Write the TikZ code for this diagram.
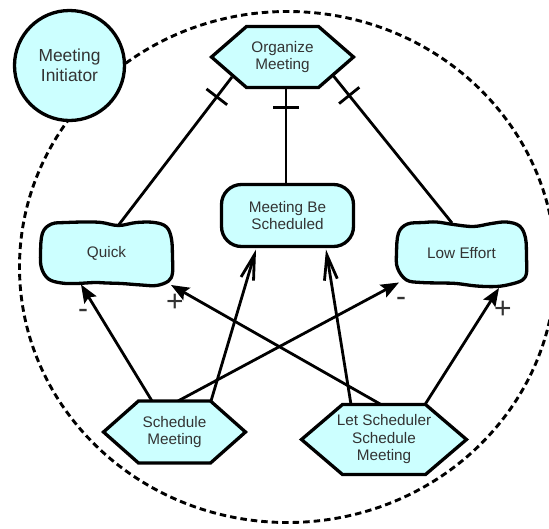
\documentclass[tikz,border=0pt]{standalone}
\usepackage{fontspec}
\setmainfont{Liberation Sans}
\usetikzlibrary{arrows.meta,calc,decorations.markings,backgrounds}

\definecolor{istarfill}{HTML}{CCFFFF}
\definecolor{labelgray}{HTML}{333333}

\tikzset{
  elem/.style={draw=none, inner sep=0pt, outer sep=0pt, align=center,
    text=labelgray, font=\fontsize{15.3}{17.5}\selectfont},
  outline/.style={draw=black, line width=3.3pt, fill=istarfill, line join=miter},
  actorbox/.style={circle, outline, minimum size=110pt, inner sep=0pt, outer sep=0pt,
    align=center, text=labelgray, font=\fontsize{17.4}{19.5}\selectfont},
  goalbox/.style={elem, outline, rounded corners=20pt, minimum width=132pt, minimum height=62pt},
  boundary/.style={draw=black, line width=2.9pt, dash pattern=on 6.5pt off 4pt},
  link/.style={draw=black, line width=2.8pt},
  decomp/.style={link, postaction={decorate},
    decoration={markings, mark=at position #1 with {\draw[line width=2.8pt] (0,-13pt) -- (0,13pt);}}},
  meansend/.style={link, -{Straight Barb[length=25pt,width=13pt,line width=2.8pt]}},
  contrib/.style={link, -{Stealth[length=18pt,width=14pt,inset=3pt]}},
  signlabel/.style={inner sep=0pt, text=labelgray, font=\fontsize{30}{30}\selectfont},
}

% hexagonal task outline around a rectangular node
\newcommand{\hexoutline}[2]{%
  \draw[outline] (#1.west) -- ([xshift=#2]#1.north west) -- ([xshift=-#2]#1.north east)
    -- (#1.east) -- ([xshift=-#2]#1.south east) -- ([xshift=#2]#1.south west) -- cycle;}

\begin{document}
\begin{tikzpicture}[x=1pt,y=-1pt]
\useasboundingbox (0,0) rectangle (549,528);

% actor and intentional elements
\node[actorbox] (mi) at (69.5,65.5) {Meeting\\Initiator};
\node[elem, minimum width=142pt, minimum height=61pt] (om) at (282.5,57) {Organize\\Meeting};
\node[goalbox] (mbs) at (287.5,215.5) {Meeting Be\\Scheduled};
\node[elem, minimum width=134pt, minimum height=65pt] (q) at (106.5,253) {Quick};
\node[elem, minimum width=132pt, minimum height=66pt] (le) at (461.5,253) {Low Effort};
\node[elem, minimum width=142pt, minimum height=62pt] (sm) at (174.5,432) {Schedule\\Meeting};
\node[elem, minimum width=165pt, minimum height=70pt] (ls) at (384,439.5) {Let Scheduler\\Schedule\\Meeting};

% boundary and element outlines behind the texts
\begin{scope}[on background layer]
  \draw[boundary] (287.5,267) ellipse [x radius=268pt, y radius=255.5pt];
  \hexoutline{om}{35pt}
  \hexoutline{sm}{35pt}
  \hexoutline{ls}{41pt}
  \draw[outline, shift={(q.center)}] plot[smooth cycle, tension=0.6] coordinates {
    (-64,-20) (-55,-29) (-40,-30.5) (-20,-31) (-5,-30.5) (12,-27.5) (30,-30.5) (48,-30.5) (60,-26)
    (65,-14) (66,5) (66,20) (62,28)
    (50,32.5) (35,32) (15,30.5) (0,30) (-12,29.5) (-30,30.5) (-45,30) (-58,26)
    (-65,15) (-66,0)};
  \draw[outline, shift={(le.center)}] plot[smooth cycle, tension=0.6] coordinates {
    (-63,-20) (-54,-29) (-38,-30.5) (-25,-31) (-8,-28.5) (12,-26.5) (30,-29.5) (45,-31) (58,-27)
    (64,-15) (65,5) (65,20) (61,27)
    (50,31) (35,33.5) (15,33) (-5,30.5) (-20,30) (-40,29.5) (-55,27)
    (-64,15) (-65,0)};
\end{scope}

% decomposition links
\draw[decomp=25pt] ($(om.center)+(-50.5,20)$) -- ($(q.center)+(12.5,-28.5)$);
\draw[decomp=20pt] ($(om.center)+(3.5,30.5)$) -- ($(mbs.center)+(-1.5,-31)$);
\draw[decomp=25pt] ($(om.center)+(51,19)$) -- ($(le.center)+(-9.5,-30)$);

% means-end links
\draw[meansend] ($(sm.center)+(36.5,-31)$) -- ($(mbs.center)+(-31.5,34)$);
\draw[meansend] ($(ls.center)+(-33,-35)$) -- ($(mbs.center)+(38.5,34)$);

% contribution links
\draw[contrib] ($(sm.center)+(-22.5,-31)$) -- ($(q.center)+(-25.5,31.5)$);
\draw[contrib] ($(ls.center)+(-3,-35)$) -- ($(q.center)+(64.5,32)$);
\draw[contrib] ($(sm.center)+(3.5,-31)$) -- ($(le.center)+(-62.5,29.5)$);
\draw[contrib] ($(ls.center)+(41,-35)$) -- ($(le.center)+(37.5,35)$);

\node[signlabel] (c1) at (83,314) {-};
\node[signlabel] (c2) at (175,303) {+};
\node[signlabel] (c3) at (401,302) {-};
\node[signlabel] (c4) at (503,310) {+};
\end{tikzpicture}
\end{document}
